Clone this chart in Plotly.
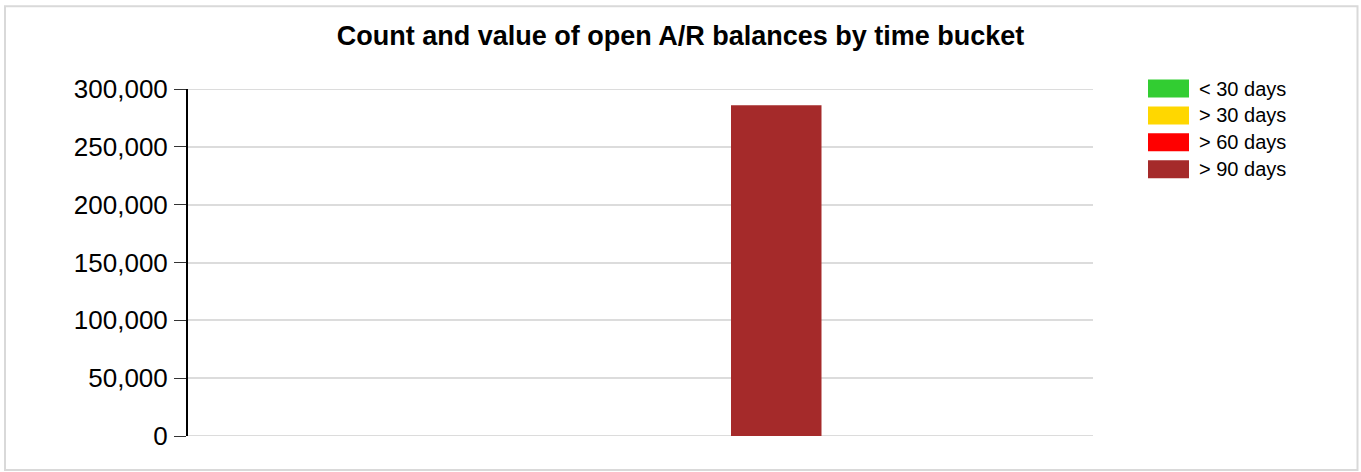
import plotly.graph_objects as go

# Open A/R balances, one grouped category split by age bucket
categories = ["Open A/R"]
bucket_names = ["< 30 days", "> 30 days", "> 60 days", "> 90 days"]
bucket_values = [
    [0],
    [0],
    [0],
    [286000],
]
bucket_colors = ["#32CD32", "#FFD700", "#FF0000", "#A52A2A"]
y_tick_values = [0, 50000, 100000, 150000, 200000, 250000, 300000]

W, H = 1361, 472
L, R, T, B = 188, 268, 88.5, 35.5
plot_w = W - L - R
plot_h = H - T - B
GRID = "#dcdcdc"

fig = go.Figure()
for name, vals, col in zip(bucket_names, bucket_values, bucket_colors):
    fig.add_trace(go.Bar(x=categories, y=vals, name=name, marker_color=col,
                         marker_line_width=0, showlegend=False))

def px_x(px):
    return (px - L) / plot_w

def px_y(py):
    return (H - B - py) / plot_h

shapes = []
annotations = []

# outer frame of the chart
shapes.append(dict(type="rect", xref="paper", yref="paper",
                   x0=px_x(5), x1=px_x(1357.5), y0=px_y(5.5), y1=px_y(470.5),
                   line=dict(color="#d9d9d9", width=2), fillcolor="rgba(0,0,0,0)",
                   layer="below"))

# grid lines at both ends of the value range
for v in (y_tick_values[0], y_tick_values[-1]):
    shapes.append(dict(type="line", xref="paper", yref="y", x0=0, x1=1, y0=v, y1=v,
                       line=dict(color=GRID, width=2), layer="below"))

# legend drawn as wide swatches with labels
for i, (name, col) in enumerate(zip(bucket_names, bucket_colors)):
    top = 79 + 27 * i
    shapes.append(dict(type="rect", xref="paper", yref="paper",
                       x0=px_x(1148), x1=px_x(1189), y0=px_y(top + 18), y1=px_y(top),
                       line=dict(width=0), fillcolor=col))
    annotations.append(dict(text=name, xref="paper", yref="paper",
                            x=px_x(1197), y=px_y(top + 9), xanchor="left", yanchor="middle",
                            showarrow=False, font=dict(size=20, color="#000")))

fig.update_layout(
    width=W, height=H,
    margin=dict(l=L, r=R, t=T, b=B, pad=0),
    paper_bgcolor="white", plot_bgcolor="white",
    font=dict(family="Liberation Sans, Arial, sans-serif", color="#000"),
    title=dict(text="<b>Count and value of open A/R balances by time bucket</b>",
               x=0.5, xref="container", xanchor="center",
               y=1 - 36 / H, yanchor="middle",
               font=dict(size=27, color="#000")),
    barmode="group", bargap=0.6, bargroupgap=0,
    showlegend=False,
    shapes=shapes, annotations=annotations,
)
fig.update_xaxes(showticklabels=False, showgrid=False, zeroline=False,
                 showline=False, ticks="", range=[-0.5, 0.5])
fig.update_yaxes(range=[0, 300000], tickvals=y_tick_values, tickformat=",d",
                 showgrid=True, gridcolor=GRID, gridwidth=2,
                 zeroline=False, showline=True, linecolor="#000", linewidth=2,
                 ticks="outside", ticklen=12, tickwidth=1, tickcolor="#333",
                 ticklabelstandoff=1,
                 tickfont=dict(size=26, color="#000"))

fig.write_html("out.html")
